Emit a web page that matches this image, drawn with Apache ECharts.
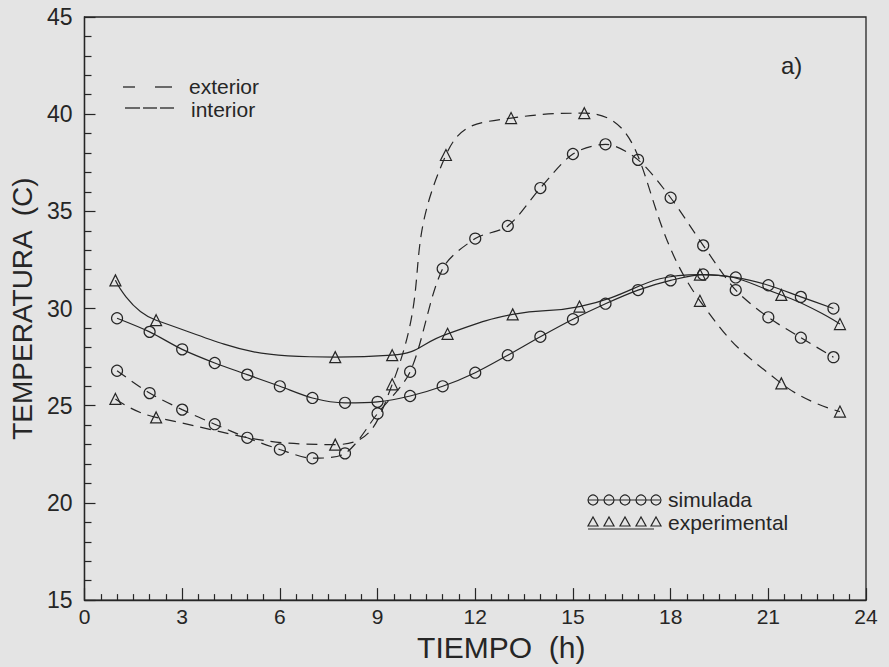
<!DOCTYPE html>
<html>
<head>
<meta charset="utf-8">
<script src="https://cdn.jsdelivr.net/npm/echarts@6/dist/echarts.min.js"></script>
<style>
html,body{margin:0;padding:0;background:#e4e4e4;}
#chart{width:889px;height:667px;}
</style>
</head>
<body>
<div id="chart"></div>
<script>
// ---- data ----
var simHours = [1,2,3,4,5,6,7,8,9,10,11,12,13,14,15,16,17,18,19,20,21,22,23];
var simExterior = [29.5,28.8,27.9,27.2,26.6,26.0,25.4,25.15,25.2,25.5,26.0,26.7,27.6,28.55,29.45,30.25,30.95,31.45,31.75,31.6,31.2,30.6,30.0];
var simInterior = [26.8,25.65,24.8,24.05,23.35,22.75,22.3,22.55,24.6,26.75,32.05,33.6,34.25,36.2,37.95,38.45,37.65,35.7,33.25,30.95,29.55,28.5,27.5];
var expHoursExt = [0.95,2.2,7.7,9.45,11.15,13.15,15.2,18.9,21.4,23.2];
var expExterior = [31.45,29.4,27.5,27.6,28.7,29.7,30.1,31.75,30.7,29.2];
var expHoursInt = [0.95,2.2,7.7,9.45,11.1,13.1,15.35,18.9,21.4,23.2];
var expInterior = [25.35,24.4,23.0,26.1,37.9,39.8,40.05,30.4,26.15,24.7];
var xTicks = [0,3,6,9,12,15,18,21,24];
var yTicks = [15,20,25,30,35,40,45];

function pairs(xs, ys){ return xs.map(function(x,i){ return [x, ys[i]]; }); }

var ink = '#262626';
var font = 'Liberation Sans';

var chart = echarts.init(document.getElementById('chart'), null, {renderer:'svg'});

function series(name, data, symbol, dashed, smooth){
  return {
    name: name, type: 'line', data: data, smooth: smooth,
    symbol: symbol, symbolSize: 11,
    showSymbol: true,
    lineStyle: {color: ink, width: 1.2, type: dashed ? [11,7] : 'solid'},
    itemStyle: {color: 'rgba(0,0,0,0)', borderColor: ink, borderWidth: 1.2},
    emphasis: {disabled: true},
    z: 3
  };
}

var option = {
  backgroundColor: '#e4e4e4',
  animation: false,
  grid: {left: 76, right: 23, top: 17, bottom: 56, show: true, borderColor: ink, borderWidth: 1.3, backgroundColor: 'transparent'},
  xAxis: {
    type: 'value', min: 0, max: 24, interval: 3,
    name: 'TIEMPO  (h)', nameLocation: 'middle', nameGap: 22,
    nameTextStyle: {fontFamily: font, fontSize: 30, color: ink, padding: [0,0,0,52], verticalAlign: 'top'},
    axisLine: {lineStyle: {color: ink, width: 1.3}},
    axisTick: {inside: true, length: 12, lineStyle: {color: ink, width: 1.2}},
    minorTick: {show: true, splitNumber: 6, length: 6, lineStyle: {color: ink, width: 1.2}},
    splitLine: {show: false},
    axisLabel: {fontFamily: font, fontSize: 21, color: ink, margin: 6,
      formatter: function(v){ return xTicks.indexOf(v) >= 0 ? String(v) : ''; }}
  },
  yAxis: {
    type: 'value', min: 15, max: 45, interval: 5,
    name: 'TEMPERATURA  (C)', nameLocation: 'middle', nameGap: 42, nameRotate: 90,
    nameTextStyle: {fontFamily: font, fontSize: 28, color: ink},
    axisLine: {show: true, lineStyle: {color: ink, width: 1.3}},
    axisTick: {show: true, inside: true, length: 11, lineStyle: {color: ink, width: 1.2}},
    minorTick: {show: true, splitNumber: 5, length: 7, lineStyle: {color: ink, width: 1.2}},
    splitLine: {show: false},
    axisLabel: {fontFamily: font, fontSize: 23, color: ink, margin: 12,
      formatter: function(v){ return yTicks.indexOf(v) >= 0 ? String(v) : ''; }}
  },
  series: [
    series('simulada exterior', pairs(simHours, simExterior), 'circle', false, 0.3),
    series('simulada interior', pairs(simHours, simInterior), 'circle', true, 0.3),
    series('experimental exterior', pairs(expHoursExt, expExterior), 'triangle', false, 0.5),
    series('experimental interior', pairs(expHoursInt, expInterior), 'triangle', true, 0.5)
  ],
  graphic: [
    // exterior / interior line-style key
    {type:'line', shape:{x1:123,y1:87,x2:135,y2:87}, style:{stroke:ink, lineWidth:1.3}},
    {type:'line', shape:{x1:155,y1:87,x2:172,y2:87}, style:{stroke:ink, lineWidth:1.3}},
    {type:'text', left:189, top:76, style:{text:'exterior', fontFamily:font, fontSize:21, lineHeight:21, fill:ink}},
    {type:'line', shape:{x1:125,y1:108,x2:140,y2:108}, style:{stroke:ink, lineWidth:1.3}},
    {type:'line', shape:{x1:143,y1:108,x2:157,y2:108}, style:{stroke:ink, lineWidth:1.3}},
    {type:'line', shape:{x1:160,y1:108,x2:174,y2:108}, style:{stroke:ink, lineWidth:1.3}},
    {type:'text', left:191, top:99, style:{text:'interior', fontFamily:font, fontSize:21, lineHeight:21, fill:ink}},
    // panel label
    {type:'text', left:781, top:53, style:{text:'a)', fontFamily:font, fontSize:24, fill:ink}},
    // simulada key
    {type:'line', shape:{x1:588,y1:500,x2:660,y2:500}, style:{stroke:ink, lineWidth:1.2}},
    {type:'circle', shape:{cx:593,cy:500,r:5}, style:{fill:'none', stroke:ink, lineWidth:1.2}},
    {type:'circle', shape:{cx:609,cy:500,r:5}, style:{fill:'none', stroke:ink, lineWidth:1.2}},
    {type:'circle', shape:{cx:625,cy:500,r:5}, style:{fill:'none', stroke:ink, lineWidth:1.2}},
    {type:'circle', shape:{cx:641,cy:500,r:5}, style:{fill:'none', stroke:ink, lineWidth:1.2}},
    {type:'circle', shape:{cx:656,cy:500,r:5}, style:{fill:'none', stroke:ink, lineWidth:1.2}},
    {type:'text', left:668, top:489, style:{text:'simulada', fontFamily:font, fontSize:21, lineHeight:21, fill:ink}},
    // experimental key
    {type:'line', shape:{x1:588,y1:529,x2:654,y2:529}, style:{stroke:ink, lineWidth:1.2}},
    {type:'polygon', shape:{points:[[588,526],[598,526],[593,517]]}, style:{fill:'none', stroke:ink, lineWidth:1.2}},
    {type:'polygon', shape:{points:[[604,526],[614,526],[609,517]]}, style:{fill:'none', stroke:ink, lineWidth:1.2}},
    {type:'polygon', shape:{points:[[620,526],[630,526],[625,517]]}, style:{fill:'none', stroke:ink, lineWidth:1.2}},
    {type:'polygon', shape:{points:[[636,526],[646,526],[641,517]]}, style:{fill:'none', stroke:ink, lineWidth:1.2}},
    {type:'polygon', shape:{points:[[651,526],[661,526],[656,517]]}, style:{fill:'none', stroke:ink, lineWidth:1.2}},
    {type:'text', left:668, top:512, style:{text:'experimental', fontFamily:font, fontSize:21, lineHeight:21, fill:ink}}
  ]
};
chart.setOption(option);
</script>
</body>
</html>
